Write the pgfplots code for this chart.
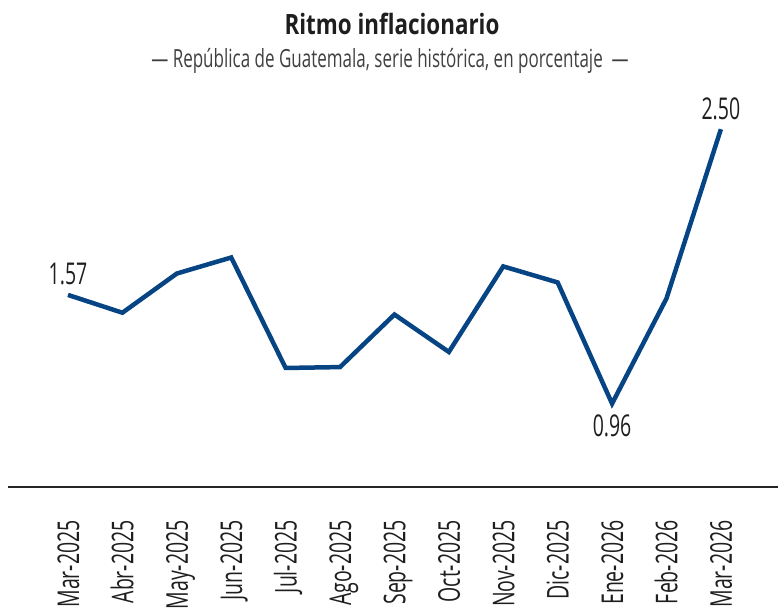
\documentclass[border=0pt]{standalone}
\usepackage{fontspec}
\setmainfont{Open Sans}[FakeStretch=0.65]
\newfontfamily\titlefont{Open Sans}[FakeStretch=0.80]
\newfontfamily\subfont{Open Sans}[FakeStretch=0.68]
\usepackage{pgfplots}
\pgfplotsset{compat=1.18}
\definecolor{lineblue}{RGB}{6,68,132}
\definecolor{txt}{RGB}{30,30,30}
\begin{document}
\begin{tikzpicture}
\useasboundingbox (0pt,0pt) rectangle (778pt,611pt);
\node[anchor=base, text=txt, inner sep=0pt] at (392pt,576pt) {\titlefont\fontsize{28pt}{32pt}\selectfont\bfseries Ritmo inflacionario};
\node[anchor=base, text=txt!85, inner sep=0pt] at (390pt,543pt) {\subfont\fontsize{25pt}{30pt}\selectfont — República de Guatemala, serie histórica, en porcentaje\ \ —};
\begin{axis}[
  at={(8pt,124pt)}, anchor=south west,
  scale only axis, width=770pt, height=397pt,
  xmin=-1.103, xmax=13.05, ymin=0.492, ymax=2.72,
  clip=false,
  axis x line=bottom, axis y line=none,
  x axis line style={-, draw=black!85, line width=1.5pt},
  xtick={0,...,12}, major tick length=0pt, ytick=\empty,
  xticklabels={Mar-2025,Abr-2025,May-2025,Jun-2025,Jul-2025,Ago-2025,Sep-2025,Oct-2025,Nov-2025,Dic-2025,Ene-2026,Feb-2026,Mar-2026},
  xticklabel style={rotate=90, anchor=east, inner sep=0pt, text height=22pt, text depth=0pt, font=\fontsize{30pt}{34pt}\selectfont, text=txt},
  xticklabel shift=33pt,
]
\addplot[color=lineblue, line width=4.5pt, mark=none] coordinates {
(0,1.57) (1,1.47) (2,1.69) (3,1.78) (4,1.16) (5,1.165) (6,1.46) (7,1.25) (8,1.73) (9,1.64) (10,0.96) (11,1.55) (12,2.50)
};
\node[anchor=base, inner sep=0pt, text=txt, font=\fontsize{30pt}{34pt}\selectfont] at (axis cs:0,1.57) [yshift=10pt] {1.57};
\node[anchor=base, inner sep=0pt, text=txt, font=\fontsize{30pt}{34pt}\selectfont] at (axis cs:12,2.50) [yshift=10pt] {2.50};
\node[anchor=base, inner sep=0pt, text=txt, font=\fontsize{30pt}{34pt}\selectfont] at (axis cs:10,0.96) [yshift=-33pt] {0.96};
\end{axis}
\end{tikzpicture}
\end{document}
